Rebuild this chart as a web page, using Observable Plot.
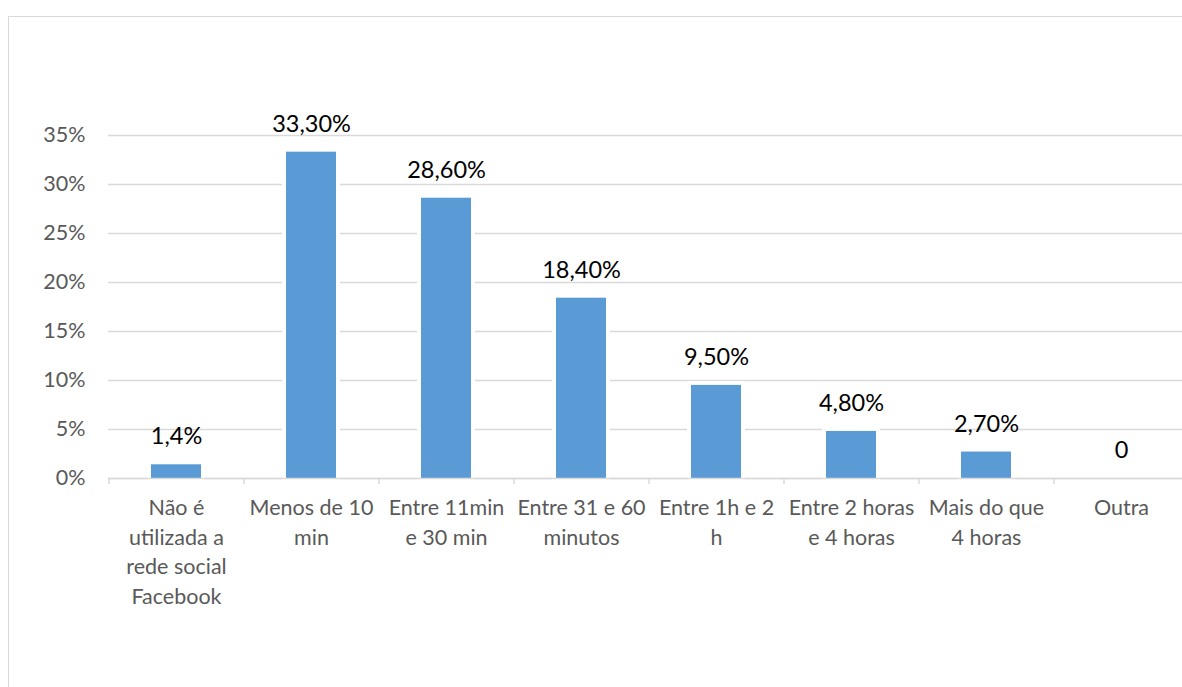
<!DOCTYPE html>
<html>
<head>
<meta charset="utf-8">
<script src="https://cdn.jsdelivr.net/npm/d3@7"></script>
<script src="https://cdn.jsdelivr.net/npm/@observablehq/plot@0.6"></script>
<style>
  html, body { margin: 0; padding: 0; background: #fff; overflow: hidden; }
  #wrap { position: relative; width: 1182px; height: 687px; }
  #border { position: absolute; left: 8px; top: 16px; width: 1200px; height: 700px; border: 1px solid #d9d9d9; box-sizing: border-box; }
  #chart { position: absolute; left: 0; top: 0; }
</style>
</head>
<body>
<div id="wrap"><div id="border"></div><div id="chart"></div></div>
<script>
const categories = ["nao", "menos10", "11a30", "31a60", "1a2h", "2a4h", "mais4h", "outra"];
const categoryLabels = [
  "Não é\nutilizada a\nrede social\nFacebook",
  "Menos de 10\nmin",
  "Entre 11min\ne 30 min",
  "Entre 31 e 60\nminutos",
  "Entre 1h e 2\nh",
  "Entre 2 horas\ne 4 horas",
  "Mais do que\n4 horas",
  "Outra"
];
const values = [1.4, 33.3, 28.6, 18.4, 9.5, 4.8, 2.7, 0];
const valueLabels = ["1,4%", "33,30%", "28,60%", "18,40%", "9,50%", "4,80%", "2,70%", "0"];
const yTicks = [0, 5, 10, 15, 20, 25, 30, 35];

const data = categories.map((c, i) => ({cat: c, label: categoryLabels[i], value: values[i], text: valueLabels[i]}));

const xLeft = 108, xRight = 1188;
const step = (xRight - xLeft) / categories.length;
const font = "Lato, 'Noto Sans', sans-serif";

const chart = Plot.plot({
  width: 1182,
  height: 687,
  marginTop: 135,
  marginBottom: 209,
  marginLeft: 108,
  marginRight: 0,
  style: {fontFamily: font, color: "#595959", background: "transparent", overflow: "visible"},
  x: {domain: categories, range: [xLeft, xRight], paddingInner: 0.63, paddingOuter: 0.315, axis: null},
  y: {domain: [0, 35], axis: null},
  marks: [
    Plot.gridY(yTicks, {stroke: "#d9d9d9", strokeOpacity: 1, strokeWidth: 1.3}),
    Plot.barY(data, {x: "cat", y: "value", fill: "#5b9bd5", stroke: "#fff", strokeWidth: 8, paintOrder: "stroke"}),
    Plot.ruleY([0], {stroke: "#d9d9d9", strokeWidth: 1.5}),
    Plot.ruleX(data, {x: "cat", y1: 0, y2: 0, insetBottom: -6, dx: -step / 2, stroke: "#d9d9d9", strokeWidth: 1.5}),
    Plot.axisY(yTicks, {label: null, tickSize: 0, tickPadding: 23, tickFormat: d => d + "%", fontSize: 21.5, fill: "#595959"}),
    Plot.text(data, {x: "cat", y: "value", text: "text", dy: -28, fontSize: 23.5, fill: "#000"}),
    Plot.text(data, {x: "cat", y: 0, text: "label", dy: 16, lineAnchor: "top", lineHeight: 1.37, fontSize: 21.5, fill: "#595959"})
  ]
});
document.getElementById("chart").appendChild(chart);
</script>
</body>
</html>
